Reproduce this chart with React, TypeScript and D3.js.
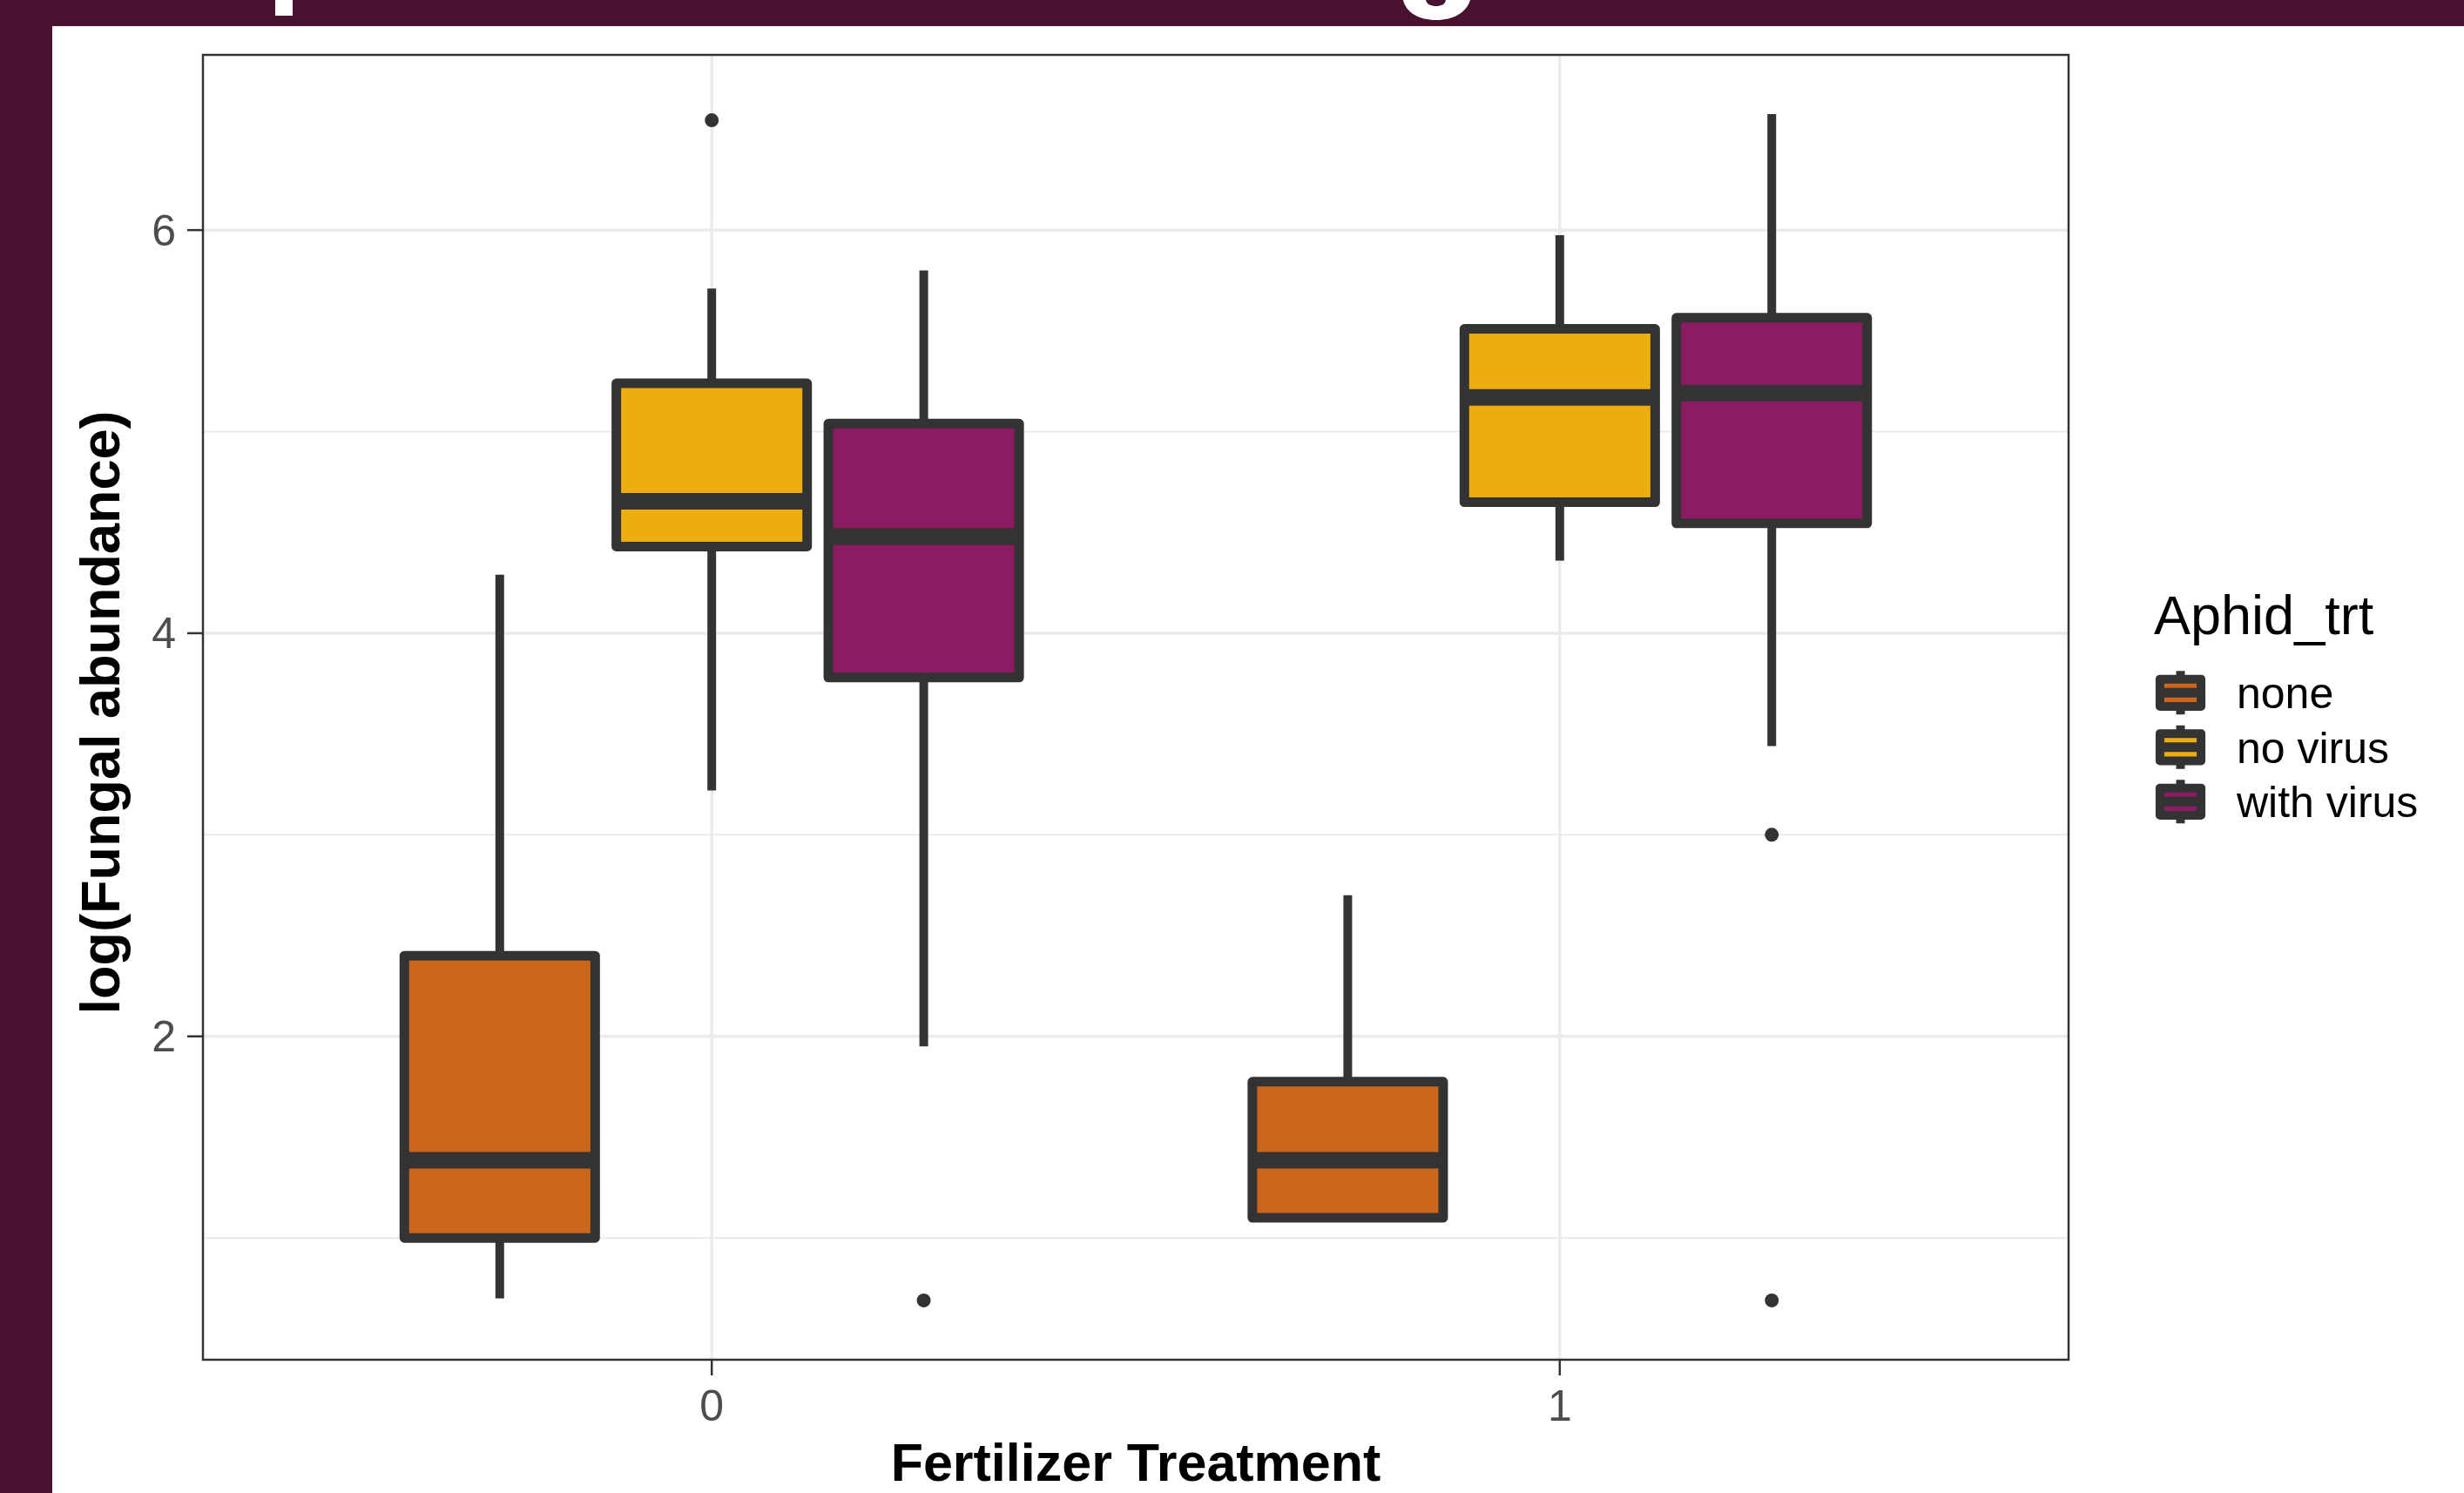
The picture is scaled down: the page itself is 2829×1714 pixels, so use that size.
import React from 'react';
import * as d3 from 'd3';

// categories
const fertilizer = ['0', '1'];
const aphidTrt = ['none', 'no virus', 'with virus'];
const fillColors = ['#CD661D', '#EEAD0E', '#8B1C62'];

// box stats per fertilizer level: [lower whisker, q1, median, q3, upper whisker]
const noneStats = [[0.70, 1.00, 1.385, 2.40, 4.29], [1.10, 1.10, 1.385, 1.775, 2.70]];
const noVirusStats = [[3.22, 4.43, 4.655, 5.24, 5.71], [4.36, 4.65, 5.17, 5.51, 5.975]];
const withVirusStats = [[1.95, 3.78, 4.48, 5.04, 5.80], [3.44, 4.545, 5.19, 5.565, 6.575]];

// outliers per fertilizer level
const noneOutliers = [[], []];
const noVirusOutliers = [[6.545], []];
const withVirusOutliers = [[0.69], [3.0, 0.69]];

const yTicks = [2, 4, 6];
const yMinor = [1, 3, 5];

const W = 2829, H = 1714;
const panel = { left: 233, right: 2375, top: 63, bottom: 1561 };
const ink = '#333333';
const font = '"Liberation Sans", Arial, Helvetica, sans-serif';

const series = [
    { name: aphidTrt[0], fill: fillColors[0], stats: noneStats, out: noneOutliers },
    { name: aphidTrt[1], fill: fillColors[1], stats: noVirusStats, out: noVirusOutliers },
    { name: aphidTrt[2], fill: fillColors[2], stats: withVirusStats, out: withVirusOutliers },
];

const Box = ({ cx, w, s, y, fill }) => {
    const [lo, q1, med, q3, hi] = s.map(y);
    return (
        <g>
            <line x1={cx} x2={cx} y1={hi} y2={q3} stroke={ink} strokeWidth={10} />
            <line x1={cx} x2={cx} y1={q1} y2={lo} stroke={ink} strokeWidth={10} />
            <rect x={cx - w / 2} y={q3} width={w} height={q1 - q3} fill={fill}
                stroke={ink} strokeWidth={11} strokeLinejoin="round" />
            <line x1={cx - w / 2} x2={cx + w / 2} y1={med} y2={med} stroke={ink} strokeWidth={19} />
        </g>
    );
};

const App = () => {
    const all = series.flatMap(sr => [...sr.stats.flat(), ...sr.out.flat()]);
    const [mn, mx] = d3.extent(all);
    const pad = (mx - mn) * 0.05;
    const y = d3.scaleLinear().domain([mn - pad, mx + pad]).range([panel.bottom, panel.top]);
    const x = d3.scalePoint().domain(fertilizer).range([panel.left, panel.right]).padding(0.6);
    const step = x.step();
    const boxW = step * 0.225;
    const dodge = i => (i - 1) * step * 0.25;

    const keyH = 62.5, keyW = 59, keyX = 2474, keyTop = 764;

    return (
        <svg width={W} height={H} style={{ position: 'absolute', left: 0, top: 0, display: 'block' }}
            fontFamily={font}>
            <rect x={0} y={0} width={W} height={H} fill="#4A1231" />
            <rect x={60} y={30} width={W - 60} height={H - 30} fill="#ffffff" />
            {/* bits of the cut-off slide title */}
            <rect x={316} y={0} width={20} height={18} fill="#ffffff" />
            <path fill="#ffffff" fillRule="evenodd"
                d="M1611,0 C1614,14 1629,23 1649,23 C1669,23 1684,14 1688,0 Z M1637,0 C1638,5 1643,7 1649,7 C1655,7 1659,5 1660,0 Z" />

            {/* grid */}
            {yMinor.map(v => (
                <line key={'mi' + v} x1={panel.left} x2={panel.right} y1={y(v)} y2={y(v)}
                    stroke="#EBEBEB" strokeWidth={2} />
            ))}
            {yTicks.map(v => (
                <line key={'ma' + v} x1={panel.left} x2={panel.right} y1={y(v)} y2={y(v)}
                    stroke="#EBEBEB" strokeWidth={3.5} />
            ))}
            {fertilizer.map(f => (
                <line key={'gx' + f} x1={x(f)} x2={x(f)} y1={panel.top} y2={panel.bottom}
                    stroke="#EBEBEB" strokeWidth={3.5} />
            ))}

            {/* boxes */}
            {fertilizer.map((f, fi) => series.map((sr, si) => {
                const cx = x(f) + dodge(si);
                return (
                    <g key={f + sr.name}>
                        <Box cx={cx} w={boxW} s={sr.stats[fi]} y={y} fill={sr.fill} />
                        {sr.out[fi].map((o, oi) => (
                            <circle key={oi} cx={cx} cy={y(o)} r={8} fill={ink} />
                        ))}
                    </g>
                );
            }))}

            <rect x={panel.left} y={panel.top} width={panel.right - panel.left} height={panel.bottom - panel.top}
                fill="none" stroke={ink} strokeWidth={2.5} />

            {/* y axis */}
            {yTicks.map(v => (
                <g key={'yt' + v}>
                    <line x1={panel.left - 18} x2={panel.left} y1={y(v)} y2={y(v)} stroke={ink} strokeWidth={2.5} />
                    <text x={panel.left - 31} y={y(v)} dy="0.35em" textAnchor="end" fontSize={50} fill="#4D4D4D">{v}</text>
                </g>
            ))}
            {/* x axis */}
            {fertilizer.map(f => (
                <g key={'xt' + f}>
                    <line x1={x(f)} x2={x(f)} y1={panel.bottom} y2={panel.bottom + 18} stroke={ink} strokeWidth={2.5} />
                    <text x={x(f)} y={1631} textAnchor="middle" fontSize={50} fill="#4D4D4D">{f}</text>
                </g>
            ))}

            <text x={(panel.left + panel.right) / 2} y={1700} textAnchor="middle" fontSize={61}
                fontWeight="bold" fill="#000">Fertilizer Treatment</text>
            <text transform={`translate(137, ${(panel.top + panel.bottom) / 2 + 6}) rotate(-90)`} textAnchor="middle"
                fontSize={63} fontWeight="bold" fill="#000">log(Fungal abundance)</text>

            {/* legend */}
            <text x={2473} y={728} fontSize={63} fill="#000">Aphid_trt</text>
            {series.map((sr, i) => {
                const top = keyTop + i * keyH;
                const cx = keyX + keyW / 2;
                return (
                    <g key={'lg' + sr.name}>
                        <line x1={cx} x2={cx} y1={top + keyH * 0.1} y2={top + keyH * 0.9} stroke={ink} strokeWidth={10} />
                        <rect x={keyX + keyW * 0.1} y={top + keyH * 0.25} width={keyW * 0.8} height={keyH * 0.5}
                            fill={sr.fill} stroke={ink} strokeWidth={10} strokeLinejoin="round" />
                        <line x1={keyX + keyW * 0.1} x2={keyX + keyW * 0.9} y1={top + keyH / 2} y2={top + keyH / 2}
                            stroke={ink} strokeWidth={11} />
                        <text x={2568} y={top + keyH / 2 + 18} fontSize={50} fill="#000">{sr.name}</text>
                    </g>
                );
            })}
        </svg>
    );
};

export default App;
